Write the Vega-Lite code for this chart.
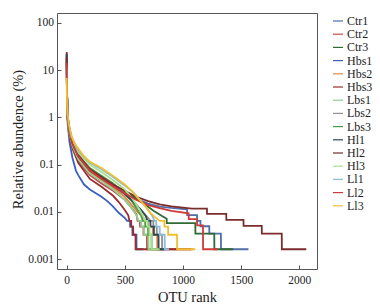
{
"$schema": "https://vega.github.io/schema/vega-lite/v6.json",
"autosize": "none",
"padding": {"left": 57, "top": 13, "right": 63, "bottom": 39},
"width": 260,
"height": 256,
"config": {
  "view": {"stroke": "#555", "strokeWidth": 1},
  "font": "Liberation Serif",
  "axis": {"grid": false, "domain": false, "labelFont": "Liberation Serif", "titleFont": "Liberation Serif", "labelColor": "#222", "titleColor": "#222", "tickColor": "#555", "titleFontWeight": "normal"}
},
"data": {"values": [
{"s":"Ctr1","r":1,"v":22},{"s":"Ctr1","r":3,"v":4},{"s":"Ctr1","r":10,"v":1.0},{"s":"Ctr1","r":25,"v":0.5},{"s":"Ctr1","r":50,"v":0.28},{"s":"Ctr1","r":100,"v":0.15},{"s":"Ctr1","r":200,"v":0.075},{"s":"Ctr1","r":300,"v":0.052},{"s":"Ctr1","r":400,"v":0.036},{"s":"Ctr1","r":500,"v":0.026},{"s":"Ctr1","r":600,"v":0.019},{"s":"Ctr1","r":700,"v":0.015},{"s":"Ctr1","r":800,"v":0.013},{"s":"Ctr1","r":900,"v":0.0122},{"s":"Ctr1","r":1035,"v":0.0114},{"s":"Ctr1","r":1036,"v":0.0086},{"s":"Ctr1","r":1121,"v":0.0086},{"s":"Ctr1","r":1122,"v":0.0065},{"s":"Ctr1","r":1150,"v":0.0065},{"s":"Ctr1","r":1151,"v":0.005},{"s":"Ctr1","r":1226,"v":0.005},{"s":"Ctr1","r":1227,"v":0.0035},{"s":"Ctr1","r":1326,"v":0.0035},{"s":"Ctr1","r":1327,"v":0.00163},{"s":"Ctr1","r":1563,"v":0.00163},
{"s":"Ctr2","r":1,"v":20},{"s":"Ctr2","r":3,"v":3.5},{"s":"Ctr2","r":10,"v":0.9},{"s":"Ctr2","r":25,"v":0.45},{"s":"Ctr2","r":50,"v":0.24},{"s":"Ctr2","r":100,"v":0.12},{"s":"Ctr2","r":200,"v":0.06},{"s":"Ctr2","r":300,"v":0.04},{"s":"Ctr2","r":400,"v":0.028},{"s":"Ctr2","r":500,"v":0.018},{"s":"Ctr2","r":560,"v":0.012},{"s":"Ctr2","r":600,"v":0.009},{"s":"Ctr2","r":610,"v":0.0065},{"s":"Ctr2","r":630,"v":0.0065},{"s":"Ctr2","r":631,"v":0.0049},{"s":"Ctr2","r":660,"v":0.0049},{"s":"Ctr2","r":661,"v":0.0033},{"s":"Ctr2","r":690,"v":0.0033},{"s":"Ctr2","r":691,"v":0.00163},{"s":"Ctr2","r":1086,"v":0.00163},
{"s":"Ctr3","r":1,"v":15},{"s":"Ctr3","r":3,"v":3.5},{"s":"Ctr3","r":10,"v":1.0},{"s":"Ctr3","r":25,"v":0.55},{"s":"Ctr3","r":50,"v":0.3},{"s":"Ctr3","r":100,"v":0.16},{"s":"Ctr3","r":200,"v":0.08},{"s":"Ctr3","r":300,"v":0.055},{"s":"Ctr3","r":400,"v":0.038},{"s":"Ctr3","r":500,"v":0.027},{"s":"Ctr3","r":600,"v":0.019},{"s":"Ctr3","r":680,"v":0.014},{"s":"Ctr3","r":750,"v":0.0105},{"s":"Ctr3","r":820,"v":0.0082},{"s":"Ctr3","r":860,"v":0.0072},{"s":"Ctr3","r":861,"v":0.0058},{"s":"Ctr3","r":1106,"v":0.0058},{"s":"Ctr3","r":1107,"v":0.0035},{"s":"Ctr3","r":1269,"v":0.0035},{"s":"Ctr3","r":1270,"v":0.00163},{"s":"Ctr3","r":1432,"v":0.00163},
{"s":"Hbs1","r":1,"v":12},{"s":"Hbs1","r":3,"v":2.5},{"s":"Hbs1","r":10,"v":0.7},{"s":"Hbs1","r":25,"v":0.3},{"s":"Hbs1","r":50,"v":0.14},{"s":"Hbs1","r":80,"v":0.075},{"s":"Hbs1","r":100,"v":0.06},{"s":"Hbs1","r":150,"v":0.038},{"s":"Hbs1","r":200,"v":0.03},{"s":"Hbs1","r":300,"v":0.021},{"s":"Hbs1","r":350,"v":0.017},{"s":"Hbs1","r":400,"v":0.013},{"s":"Hbs1","r":450,"v":0.0095},{"s":"Hbs1","r":500,"v":0.0075},{"s":"Hbs1","r":520,"v":0.0065},{"s":"Hbs1","r":545,"v":0.0065},{"s":"Hbs1","r":546,"v":0.0049},{"s":"Hbs1","r":565,"v":0.0049},{"s":"Hbs1","r":566,"v":0.0033},{"s":"Hbs1","r":600,"v":0.0033},{"s":"Hbs1","r":601,"v":0.00163},{"s":"Hbs1","r":660,"v":0.00163},
{"s":"Hbs2","r":1,"v":20},{"s":"Hbs2","r":3,"v":3.5},{"s":"Hbs2","r":10,"v":0.85},{"s":"Hbs2","r":25,"v":0.45},{"s":"Hbs2","r":50,"v":0.26},{"s":"Hbs2","r":100,"v":0.14},{"s":"Hbs2","r":200,"v":0.07},{"s":"Hbs2","r":300,"v":0.048},{"s":"Hbs2","r":400,"v":0.033},{"s":"Hbs2","r":500,"v":0.021},{"s":"Hbs2","r":560,"v":0.014},{"s":"Hbs2","r":620,"v":0.0095},{"s":"Hbs2","r":660,"v":0.0075},{"s":"Hbs2","r":680,"v":0.0065},{"s":"Hbs2","r":700,"v":0.0065},{"s":"Hbs2","r":701,"v":0.0049},{"s":"Hbs2","r":740,"v":0.0049},{"s":"Hbs2","r":741,"v":0.0033},{"s":"Hbs2","r":778,"v":0.0033},{"s":"Hbs2","r":779,"v":0.00163},{"s":"Hbs2","r":830,"v":0.00163},
{"s":"Hbs3","r":1,"v":24},{"s":"Hbs3","r":3,"v":3.5},{"s":"Hbs3","r":10,"v":0.8},{"s":"Hbs3","r":25,"v":0.42},{"s":"Hbs3","r":50,"v":0.22},{"s":"Hbs3","r":100,"v":0.11},{"s":"Hbs3","r":200,"v":0.05},{"s":"Hbs3","r":300,"v":0.034},{"s":"Hbs3","r":400,"v":0.022},{"s":"Hbs3","r":450,"v":0.016},{"s":"Hbs3","r":500,"v":0.011},{"s":"Hbs3","r":530,"v":0.0085},{"s":"Hbs3","r":540,"v":0.0065},{"s":"Hbs3","r":555,"v":0.0065},{"s":"Hbs3","r":556,"v":0.0049},{"s":"Hbs3","r":572,"v":0.0049},{"s":"Hbs3","r":573,"v":0.0033},{"s":"Hbs3","r":592,"v":0.0033},{"s":"Hbs3","r":593,"v":0.00163},{"s":"Hbs3","r":1070,"v":0.00163},
{"s":"Lbs1","r":1,"v":15},{"s":"Lbs1","r":3,"v":3},{"s":"Lbs1","r":10,"v":0.8},{"s":"Lbs1","r":25,"v":0.45},{"s":"Lbs1","r":50,"v":0.25},{"s":"Lbs1","r":100,"v":0.13},{"s":"Lbs1","r":200,"v":0.065},{"s":"Lbs1","r":300,"v":0.045},{"s":"Lbs1","r":400,"v":0.03},{"s":"Lbs1","r":500,"v":0.018},{"s":"Lbs1","r":560,"v":0.012},{"s":"Lbs1","r":600,"v":0.0085},{"s":"Lbs1","r":620,"v":0.0065},{"s":"Lbs1","r":640,"v":0.0065},{"s":"Lbs1","r":641,"v":0.0049},{"s":"Lbs1","r":665,"v":0.0049},{"s":"Lbs1","r":666,"v":0.0033},{"s":"Lbs1","r":703,"v":0.0033},{"s":"Lbs1","r":704,"v":0.00163},{"s":"Lbs1","r":760,"v":0.00163},
{"s":"Lbs2","r":1,"v":18},{"s":"Lbs2","r":3,"v":3},{"s":"Lbs2","r":10,"v":0.9},{"s":"Lbs2","r":25,"v":0.5},{"s":"Lbs2","r":50,"v":0.3},{"s":"Lbs2","r":100,"v":0.16},{"s":"Lbs2","r":200,"v":0.08},{"s":"Lbs2","r":300,"v":0.055},{"s":"Lbs2","r":400,"v":0.038},{"s":"Lbs2","r":500,"v":0.025},{"s":"Lbs2","r":580,"v":0.016},{"s":"Lbs2","r":640,"v":0.011},{"s":"Lbs2","r":700,"v":0.0075},{"s":"Lbs2","r":720,"v":0.0065},{"s":"Lbs2","r":745,"v":0.0065},{"s":"Lbs2","r":746,"v":0.0049},{"s":"Lbs2","r":775,"v":0.0049},{"s":"Lbs2","r":776,"v":0.0033},{"s":"Lbs2","r":820,"v":0.0033},{"s":"Lbs2","r":821,"v":0.00163},{"s":"Lbs2","r":860,"v":0.00163},
{"s":"Lbs3","r":1,"v":16},{"s":"Lbs3","r":3,"v":3.5},{"s":"Lbs3","r":10,"v":1.0},{"s":"Lbs3","r":25,"v":0.55},{"s":"Lbs3","r":50,"v":0.3},{"s":"Lbs3","r":100,"v":0.16},{"s":"Lbs3","r":200,"v":0.085},{"s":"Lbs3","r":300,"v":0.058},{"s":"Lbs3","r":400,"v":0.04},{"s":"Lbs3","r":500,"v":0.025},{"s":"Lbs3","r":560,"v":0.017},{"s":"Lbs3","r":600,"v":0.012},{"s":"Lbs3","r":640,"v":0.0085},{"s":"Lbs3","r":655,"v":0.0065},{"s":"Lbs3","r":675,"v":0.0065},{"s":"Lbs3","r":676,"v":0.0049},{"s":"Lbs3","r":700,"v":0.0049},{"s":"Lbs3","r":701,"v":0.0033},{"s":"Lbs3","r":730,"v":0.0033},{"s":"Lbs3","r":731,"v":0.00163},{"s":"Lbs3","r":790,"v":0.00163},
{"s":"Hl1","r":1,"v":22},{"s":"Hl1","r":3,"v":4},{"s":"Hl1","r":10,"v":0.9},{"s":"Hl1","r":25,"v":0.5},{"s":"Hl1","r":50,"v":0.28},{"s":"Hl1","r":100,"v":0.15},{"s":"Hl1","r":200,"v":0.075},{"s":"Hl1","r":300,"v":0.052},{"s":"Hl1","r":400,"v":0.036},{"s":"Hl1","r":500,"v":0.024},{"s":"Hl1","r":580,"v":0.016},{"s":"Hl1","r":640,"v":0.011},{"s":"Hl1","r":680,"v":0.0082},{"s":"Hl1","r":695,"v":0.0065},{"s":"Hl1","r":720,"v":0.0065},{"s":"Hl1","r":721,"v":0.0049},{"s":"Hl1","r":750,"v":0.0049},{"s":"Hl1","r":751,"v":0.0033},{"s":"Hl1","r":790,"v":0.0033},{"s":"Hl1","r":791,"v":0.00163},{"s":"Hl1","r":840,"v":0.00163},
{"s":"Hl2","r":1,"v":18},{"s":"Hl2","r":3,"v":3.5},{"s":"Hl2","r":10,"v":1.0},{"s":"Hl2","r":25,"v":0.55},{"s":"Hl2","r":50,"v":0.3},{"s":"Hl2","r":100,"v":0.16},{"s":"Hl2","r":200,"v":0.08},{"s":"Hl2","r":300,"v":0.055},{"s":"Hl2","r":400,"v":0.038},{"s":"Hl2","r":500,"v":0.028},{"s":"Hl2","r":600,"v":0.021},{"s":"Hl2","r":700,"v":0.017},{"s":"Hl2","r":800,"v":0.0145},{"s":"Hl2","r":900,"v":0.0132},{"s":"Hl2","r":1000,"v":0.0124},{"s":"Hl2","r":1077,"v":0.0118},{"s":"Hl2","r":1206,"v":0.0118},{"s":"Hl2","r":1207,"v":0.0091},{"s":"Hl2","r":1372,"v":0.0091},{"s":"Hl2","r":1373,"v":0.0068},{"s":"Hl2","r":1520,"v":0.0068},{"s":"Hl2","r":1521,"v":0.0051},{"s":"Hl2","r":1677,"v":0.0051},{"s":"Hl2","r":1678,"v":0.0035},{"s":"Hl2","r":1849,"v":0.0035},{"s":"Hl2","r":1850,"v":0.00163},{"s":"Hl2","r":2060,"v":0.00163},
{"s":"Hl3","r":1,"v":10},{"s":"Hl3","r":3,"v":3},{"s":"Hl3","r":10,"v":1.0},{"s":"Hl3","r":25,"v":0.55},{"s":"Hl3","r":50,"v":0.32},{"s":"Hl3","r":100,"v":0.18},{"s":"Hl3","r":200,"v":0.1},{"s":"Hl3","r":300,"v":0.07},{"s":"Hl3","r":400,"v":0.047},{"s":"Hl3","r":500,"v":0.03},{"s":"Hl3","r":560,"v":0.02},{"s":"Hl3","r":620,"v":0.012},{"s":"Hl3","r":660,"v":0.008},{"s":"Hl3","r":675,"v":0.0065},{"s":"Hl3","r":695,"v":0.0065},{"s":"Hl3","r":696,"v":0.0049},{"s":"Hl3","r":712,"v":0.0049},{"s":"Hl3","r":713,"v":0.0033},{"s":"Hl3","r":730,"v":0.0033},{"s":"Hl3","r":731,"v":0.00163},{"s":"Hl3","r":800,"v":0.00163},
{"s":"Ll1","r":1,"v":12},{"s":"Ll1","r":3,"v":3},{"s":"Ll1","r":10,"v":1.0},{"s":"Ll1","r":25,"v":0.6},{"s":"Ll1","r":50,"v":0.35},{"s":"Ll1","r":100,"v":0.2},{"s":"Ll1","r":200,"v":0.11},{"s":"Ll1","r":300,"v":0.08},{"s":"Ll1","r":400,"v":0.055},{"s":"Ll1","r":500,"v":0.036},{"s":"Ll1","r":580,"v":0.025},{"s":"Ll1","r":640,"v":0.017},{"s":"Ll1","r":700,"v":0.011},{"s":"Ll1","r":740,"v":0.008},{"s":"Ll1","r":755,"v":0.0065},{"s":"Ll1","r":770,"v":0.0065},{"s":"Ll1","r":771,"v":0.0049},{"s":"Ll1","r":800,"v":0.0049},{"s":"Ll1","r":801,"v":0.0033},{"s":"Ll1","r":843,"v":0.0033},{"s":"Ll1","r":844,"v":0.00163},{"s":"Ll1","r":880,"v":0.00163},
{"s":"Ll2","r":1,"v":14},{"s":"Ll2","r":3,"v":3},{"s":"Ll2","r":10,"v":0.95},{"s":"Ll2","r":25,"v":0.5},{"s":"Ll2","r":50,"v":0.28},{"s":"Ll2","r":100,"v":0.15},{"s":"Ll2","r":200,"v":0.075},{"s":"Ll2","r":300,"v":0.05},{"s":"Ll2","r":400,"v":0.035},{"s":"Ll2","r":500,"v":0.025},{"s":"Ll2","r":600,"v":0.018},{"s":"Ll2","r":700,"v":0.014},{"s":"Ll2","r":800,"v":0.012},{"s":"Ll2","r":900,"v":0.0105},{"s":"Ll2","r":1049,"v":0.0094},{"s":"Ll2","r":1050,"v":0.0071},{"s":"Ll2","r":1121,"v":0.0071},{"s":"Ll2","r":1122,"v":0.0052},{"s":"Ll2","r":1172,"v":0.0052},{"s":"Ll2","r":1173,"v":0.00163},{"s":"Ll2","r":1300,"v":0.00163},
{"s":"Ll3","r":1,"v":6.8},{"s":"Ll3","r":3,"v":2.5},{"s":"Ll3","r":8,"v":1.2},{"s":"Ll3","r":20,"v":0.7},{"s":"Ll3","r":40,"v":0.4},{"s":"Ll3","r":70,"v":0.28},{"s":"Ll3","r":100,"v":0.22},{"s":"Ll3","r":150,"v":0.15},{"s":"Ll3","r":200,"v":0.115},{"s":"Ll3","r":300,"v":0.085},{"s":"Ll3","r":400,"v":0.058},{"s":"Ll3","r":500,"v":0.038},{"s":"Ll3","r":560,"v":0.028},{"s":"Ll3","r":620,"v":0.019},{"s":"Ll3","r":680,"v":0.013},{"s":"Ll3","r":720,"v":0.0095},{"s":"Ll3","r":760,"v":0.0078},{"s":"Ll3","r":800,"v":0.0065},{"s":"Ll3","r":840,"v":0.0065},{"s":"Ll3","r":841,"v":0.0049},{"s":"Ll3","r":872,"v":0.0049},{"s":"Ll3","r":873,"v":0.0033},{"s":"Ll3","r":949,"v":0.0033},{"s":"Ll3","r":950,"v":0.00163},{"s":"Ll3","r":1106,"v":0.00163}
]},
"mark": {"type": "line", "strokeWidth": 1.8, "clip": true},
"encoding": {
  "x": {"field": "r", "type": "quantitative",
    "scale": {"domain": [-82.5, 2152], "nice": false, "zero": false},
    "axis": {"values": [0, 500, 1000, 1500, 2000], "format": "d", "title": "OTU rank", "titleFontSize": 14.5, "labelFontSize": 11.5, "tickSize": -4, "labelPadding": 9, "titleY": 28, "titleBaseline": "middle"}},
  "y": {"field": "v", "type": "quantitative",
    "scale": {"type": "log", "domain": [0.000624, 160.3], "nice": false},
    "axis": {"values": [0.001, 0.01, 0.1, 1, 10, 100], "labelExpr": "'' + datum.value", "title": "Relative abundence (%)", "titleFontSize": 14.5, "labelFontSize": 11.5, "tickSize": -4, "labelPadding": 7.5, "titleX": -39, "titleY": 126, "titleBaseline": "middle"}},
  "color": {"field": "s", "type": "nominal",
    "scale": {"domain": ["Ctr1","Ctr2","Ctr3","Hbs1","Hbs2","Hbs3","Lbs1","Lbs2","Lbs3","Hl1","Hl2","Hl3","Ll1","Ll2","Ll3"],
      "range": ["#4f6fa8","#c0504d","#2f6b35","#3a5fc0","#e08a4a","#9b2d2d","#8fd08f","#8f8f8f","#4a9a4a","#2f4858","#7b2c2c","#a8e088","#8fbcd8","#d03a3a","#f0c030"]},
    "legend": {"orient": "none", "legendX": 275, "legendY": 2, "title": null, "symbolType": "stroke", "symbolSize": 100, "symbolStrokeWidth": 1.2, "labelFont": "Liberation Serif", "labelFontSize": 12, "labelColor": "#222", "rowPadding": 1.2, "padding": 0, "labelOffset": 3}}
}
}
